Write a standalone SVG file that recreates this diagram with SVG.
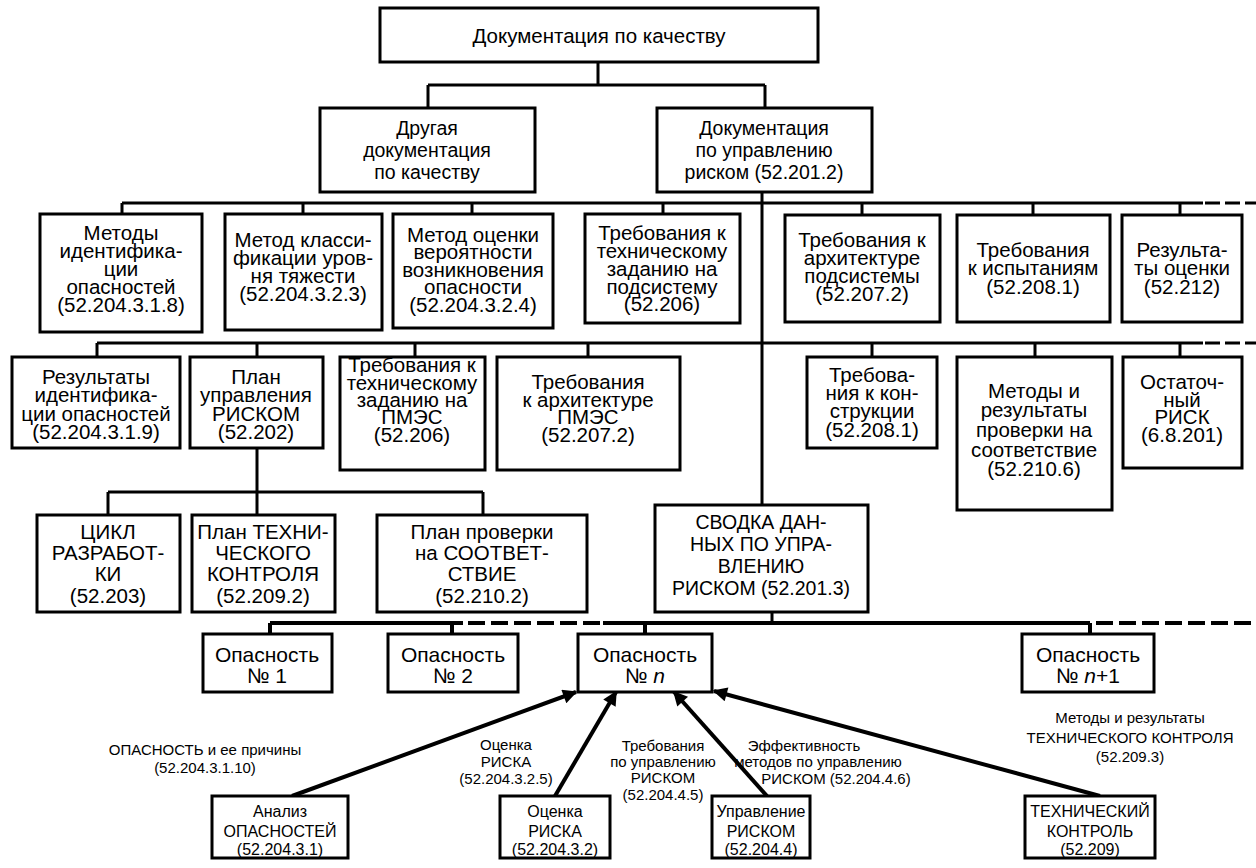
<svg xmlns="http://www.w3.org/2000/svg" width="1256" height="868" viewBox="0 0 1256 868">
<defs>
<style>
.box{fill:#fff;stroke:#000;stroke-width:3}
.t{font-family:"Liberation Sans",Arial,sans-serif;text-anchor:middle;fill:#000}
.w{font-size:20.5px}
.n{font-size:19.5px}
.o{font-size:21px}
.s{font-size:15px}
.b{font-size:16px}
.ln{stroke:#000;stroke-width:3;fill:none}
.thick{stroke:#000;stroke-width:4;fill:none}
.dash{stroke-dasharray:15 5}
.dash2{stroke-dasharray:17 6}
.arr{stroke:#000;stroke-width:4;fill:none;marker-end:url(#ah)}
</style>
<marker id="ah" viewBox="0 0 10 10" refX="9" refY="5" markerWidth="5" markerHeight="3.6" orient="auto" markerUnits="strokeWidth">
<path d="M0,0 L10,5 L0,10 z" fill="#000"/>
</marker>
</defs>
<rect width="1256" height="868" fill="#fff"/>

<g id="connectors">
<path class="ln" d="M598,62 V85 M428,85 H765 M428,85 V108 M765,85 V108"/>
<path class="ln" d="M762,192 V505"/>
<path class="ln" d="M122,203 H1203 M122,203 V214 M303,203 V214 M472,203 V214 M663,203 V214 M862,203 V214 M1033,203 V214 M1180,203 V214"/>
<path class="ln dash" d="M1205,203 H1256"/>
<path class="ln" d="M97,343 H1203 M97,343 V357 M257,343 V357 M415,343 V357 M588,343 V357 M872,343 V357 M1035,343 V357 M1180,343 V357"/>
<path class="ln dash" d="M1205,343 H1256"/>
<path class="ln" d="M257,448 V492 M108,492 H483 M108,492 V515 M257,492 V515 M483,492 V515"/>
<path class="ln" d="M772,612 V623"/>
<path class="thick" d="M270,623 H463 M603,623 H1090 M270,623 V634 M452,623 V634 M645,623 V634 M1090,623 V634"/>
<path class="thick dash2" d="M468,623 H600 M1096,623 H1256"/>
<path class="arr" d="M292,796 L576,692"/>
<path class="arr" d="M555,796 L616,692"/>
<path class="arr" d="M767,796 L674,692"/>
<path class="arr" d="M1100,796 L714,691"/>
<g class="t s">
<text x="205" y="755">ОПАСНОСТЬ и ее причины</text>
<text x="205" y="773">(52.204.3.1.10)</text>
<text x="506" y="750">Оценка</text>
<text x="506" y="767">РИСКА</text>
<text x="506" y="784">(52.204.3.2.5)</text>
<text x="663" y="751">Требования</text>
<text x="663" y="767">по управлению</text>
<text x="663" y="783">РИСКОМ</text>
<text x="663" y="800">(52.204.4.5)</text>
<text x="804" y="751">Эффективность</text>
<text x="818" y="767">методов по управлению</text>
<text x="836" y="784">РИСКОМ (52.204.4.6)</text>
<text x="1130" y="723">Методы и результаты</text>
<text x="1130" y="743">ТЕХНИЧЕСКОГО КОНТРОЛЯ</text>
<text x="1130" y="762">(52.209.3)</text>
</g>
</g>

<g id="n-top"><rect class="box" x="380" y="8" width="438" height="54"/><text class="t" font-size="20.5" x="599" y="43">Документация по качеству</text></g>
<g id="n-other"><rect class="box" x="320" y="108" width="215" height="84"/><text class="t n"><tspan x="427" y="135">Другая</tspan><tspan x="427" y="157">документация</tspan><tspan x="427" y="179">по качеству</tspan></text></g>
<g id="n-riskdoc"><rect class="box" x="657" y="108" width="215" height="84"/><text class="t n"><tspan x="764" y="135">Документация</tspan><tspan x="764" y="157">по управлению</tspan><tspan x="764" y="179">риском (52.201.2)</tspan></text></g>

<g id="n-r1-1"><rect class="box" x="40" y="214" width="162" height="118"/><text class="t w"><tspan x="121" y="240">Методы</tspan><tspan x="121" y="258">идентифика-</tspan><tspan x="121" y="276">ции</tspan><tspan x="121" y="294">опасностей</tspan><tspan x="121" y="312">(52.204.3.1.8)</tspan></text></g>
<g id="n-r1-2"><rect class="box" x="225" y="214" width="157" height="116"/><text class="t w"><tspan x="303" y="247">Метод класси-</tspan><tspan x="303" y="265">фикации уров-</tspan><tspan x="303" y="283">ня тяжести</tspan><tspan x="303" y="301">(52.204.3.2.3)</tspan></text></g>
<g id="n-r1-3"><rect class="box" x="393" y="214" width="160" height="114"/><text class="t w"><tspan x="473" y="242">Метод оценки</tspan><tspan x="473" y="259">вероятности</tspan><tspan x="473" y="277">возникновения</tspan><tspan x="473" y="294">опасности</tspan><tspan x="473" y="312">(52.204.3.2.4)</tspan></text></g>
<g id="n-r1-4"><rect class="box" x="585" y="214" width="155" height="109"/><text class="t w"><tspan x="662" y="240">Требования к</tspan><tspan x="662" y="258">техническому</tspan><tspan x="662" y="276">заданию на</tspan><tspan x="662" y="294">подсистему</tspan><tspan x="662" y="311">(52.206)</tspan></text></g>
<g id="n-r1-5"><rect class="box" x="785" y="215" width="155" height="107"/><text class="t w"><tspan x="862" y="247">Требования к</tspan><tspan x="862" y="265">архитектуре</tspan><tspan x="862" y="283">подсистемы</tspan><tspan x="862" y="301">(52.207.2)</tspan></text></g>
<g id="n-r1-6"><rect class="box" x="957" y="215" width="153" height="107"/><text class="t w"><tspan x="1033" y="257">Требования</tspan><tspan x="1033" y="275">к испытаниям</tspan><tspan x="1033" y="294">(52.208.1)</tspan></text></g>
<g id="n-r1-7"><rect class="box" x="1122" y="215" width="120" height="107"/><text class="t w"><tspan x="1182" y="257">Результа-</tspan><tspan x="1182" y="275">ты оценки</tspan><tspan x="1182" y="294">(52.212)</tspan></text></g>

<g id="n-r2-1"><rect class="box" x="12" y="357" width="168" height="91"/><text class="t w"><tspan x="96" y="384">Результаты</tspan><tspan x="96" y="402">идентифика-</tspan><tspan x="96" y="421">ции опасностей</tspan><tspan x="96" y="439">(52.204.3.1.9)</tspan></text></g>
<g id="n-r2-2"><rect class="box" x="190" y="357" width="133" height="91"/><text class="t w"><tspan x="256" y="384">План</tspan><tspan x="256" y="402">управления</tspan><tspan x="256" y="421">РИСКОМ</tspan><tspan x="256" y="439">(52.202)</tspan></text></g>
<g id="n-r2-3"><rect class="box" x="340" y="357" width="145" height="113"/><text class="t w"><tspan x="412" y="372">Требования к</tspan><tspan x="412" y="390">техническому</tspan><tspan x="412" y="407">заданию на</tspan><tspan x="412" y="424">ПМЭС</tspan><tspan x="412" y="442">(52.206)</tspan></text></g>
<g id="n-r2-4"><rect class="box" x="497" y="357" width="183" height="113"/><text class="t w"><tspan x="588" y="389">Требования</tspan><tspan x="588" y="407">к архитектуре</tspan><tspan x="588" y="424">ПМЭС</tspan><tspan x="588" y="442">(52.207.2)</tspan></text></g>
<g id="n-r2-5"><rect class="box" x="807" y="357" width="130" height="91"/><text class="t w"><tspan x="872" y="382">Требова-</tspan><tspan x="872" y="400">ния к кон-</tspan><tspan x="872" y="418">струкции</tspan><tspan x="872" y="437">(52.208.1)</tspan></text></g>
<g id="n-r2-6"><rect class="box" x="957" y="357" width="155" height="153"/><text class="t w"><tspan x="1034" y="398">Методы и</tspan><tspan x="1034" y="417">результаты</tspan><tspan x="1034" y="437">проверки на</tspan><tspan x="1034" y="457">соответствие</tspan><tspan x="1034" y="476">(52.210.6)</tspan></text></g>
<g id="n-r2-7"><rect class="box" x="1123" y="357" width="119" height="111"/><text class="t w"><tspan x="1182" y="389">Остаточ-</tspan><tspan x="1182" y="407">ный</tspan><tspan x="1182" y="424">РИСК</tspan><tspan x="1182" y="442">(6.8.201)</tspan></text></g>

<g id="n-r3-1"><rect class="box" x="37" y="515" width="143" height="97"/><text class="t w"><tspan x="108" y="539">ЦИКЛ</tspan><tspan x="108" y="560">РАЗРАБОТ-</tspan><tspan x="108" y="581">КИ</tspan><tspan x="108" y="603">(52.203)</tspan></text></g>
<g id="n-r3-2"><rect class="box" x="192" y="515" width="143" height="97"/><text class="t w"><tspan x="263" y="539">План ТЕХНИ-</tspan><tspan x="263" y="560">ЧЕСКОГО</tspan><tspan x="263" y="581">КОНТРОЛЯ</tspan><tspan x="263" y="603">(52.209.2)</tspan></text></g>
<g id="n-r3-3"><rect class="box" x="377" y="515" width="210" height="97"/><text class="t w"><tspan x="482" y="539">План проверки</tspan><tspan x="482" y="560">на СООТВЕТ-</tspan><tspan x="482" y="581">СТВИЕ</tspan><tspan x="482" y="603">(52.210.2)</tspan></text></g>

<g id="n-summary"><rect class="box" x="655" y="505" width="213" height="107"/><text class="t n"><tspan x="761" y="529">СВОДКА ДАН-</tspan><tspan x="761" y="551">НЫХ ПО УПРА-</tspan><tspan x="761" y="573">ВЛЕНИЮ</tspan><tspan x="761" y="595">РИСКОМ (52.201.3)</tspan></text></g>

<g id="n-h1"><rect class="box" x="203" y="634" width="129" height="58"/><text class="t o"><tspan x="267" y="662">Опасность</tspan><tspan x="267" y="683">№ 1</tspan></text></g>
<g id="n-h2"><rect class="box" x="388" y="634" width="130" height="58"/><text class="t o"><tspan x="453" y="662">Опасность</tspan><tspan x="453" y="683">№ 2</tspan></text></g>
<g id="n-hn"><rect class="box" x="578" y="634" width="134" height="58"/><text class="t o"><tspan x="645" y="662">Опасность</tspan><tspan x="645" y="683">№ <tspan font-style="italic">n</tspan></tspan></text></g>
<g id="n-hn1"><rect class="box" x="1022" y="634" width="132" height="58"/><text class="t o"><tspan x="1088" y="662">Опасность</tspan><tspan x="1088" y="683">№ <tspan font-style="italic">n</tspan>+1</tspan></text></g>

<g id="n-analysis"><rect class="box" x="212" y="796" width="136" height="62"/><text class="t b"><tspan x="280" y="817">Анализ</tspan><tspan x="280" y="837">ОПАСНОСТЕЙ</tspan><tspan x="280" y="855">(52.204.3.1)</tspan></text></g>
<g id="n-assess"><rect class="box" x="500" y="796" width="110" height="62"/><text class="t b"><tspan x="555" y="817">Оценка</tspan><tspan x="555" y="837">РИСКА</tspan><tspan x="555" y="855">(52.204.3.2)</tspan></text></g>
<g id="n-control"><rect class="box" x="712" y="796" width="98" height="62"/><text class="t b"><tspan x="761" y="817">Управление</tspan><tspan x="761" y="837">РИСКОМ</tspan><tspan x="761" y="855">(52.204.4)</tspan></text></g>
<g id="n-tech"><rect class="box" x="1025" y="796" width="130" height="62"/><text class="t b"><tspan x="1090" y="817">ТЕХНИЧЕСКИЙ</tspan><tspan x="1090" y="837">КОНТРОЛЬ</tspan><tspan x="1090" y="855">(52.209)</tspan></text></g>
</svg>
